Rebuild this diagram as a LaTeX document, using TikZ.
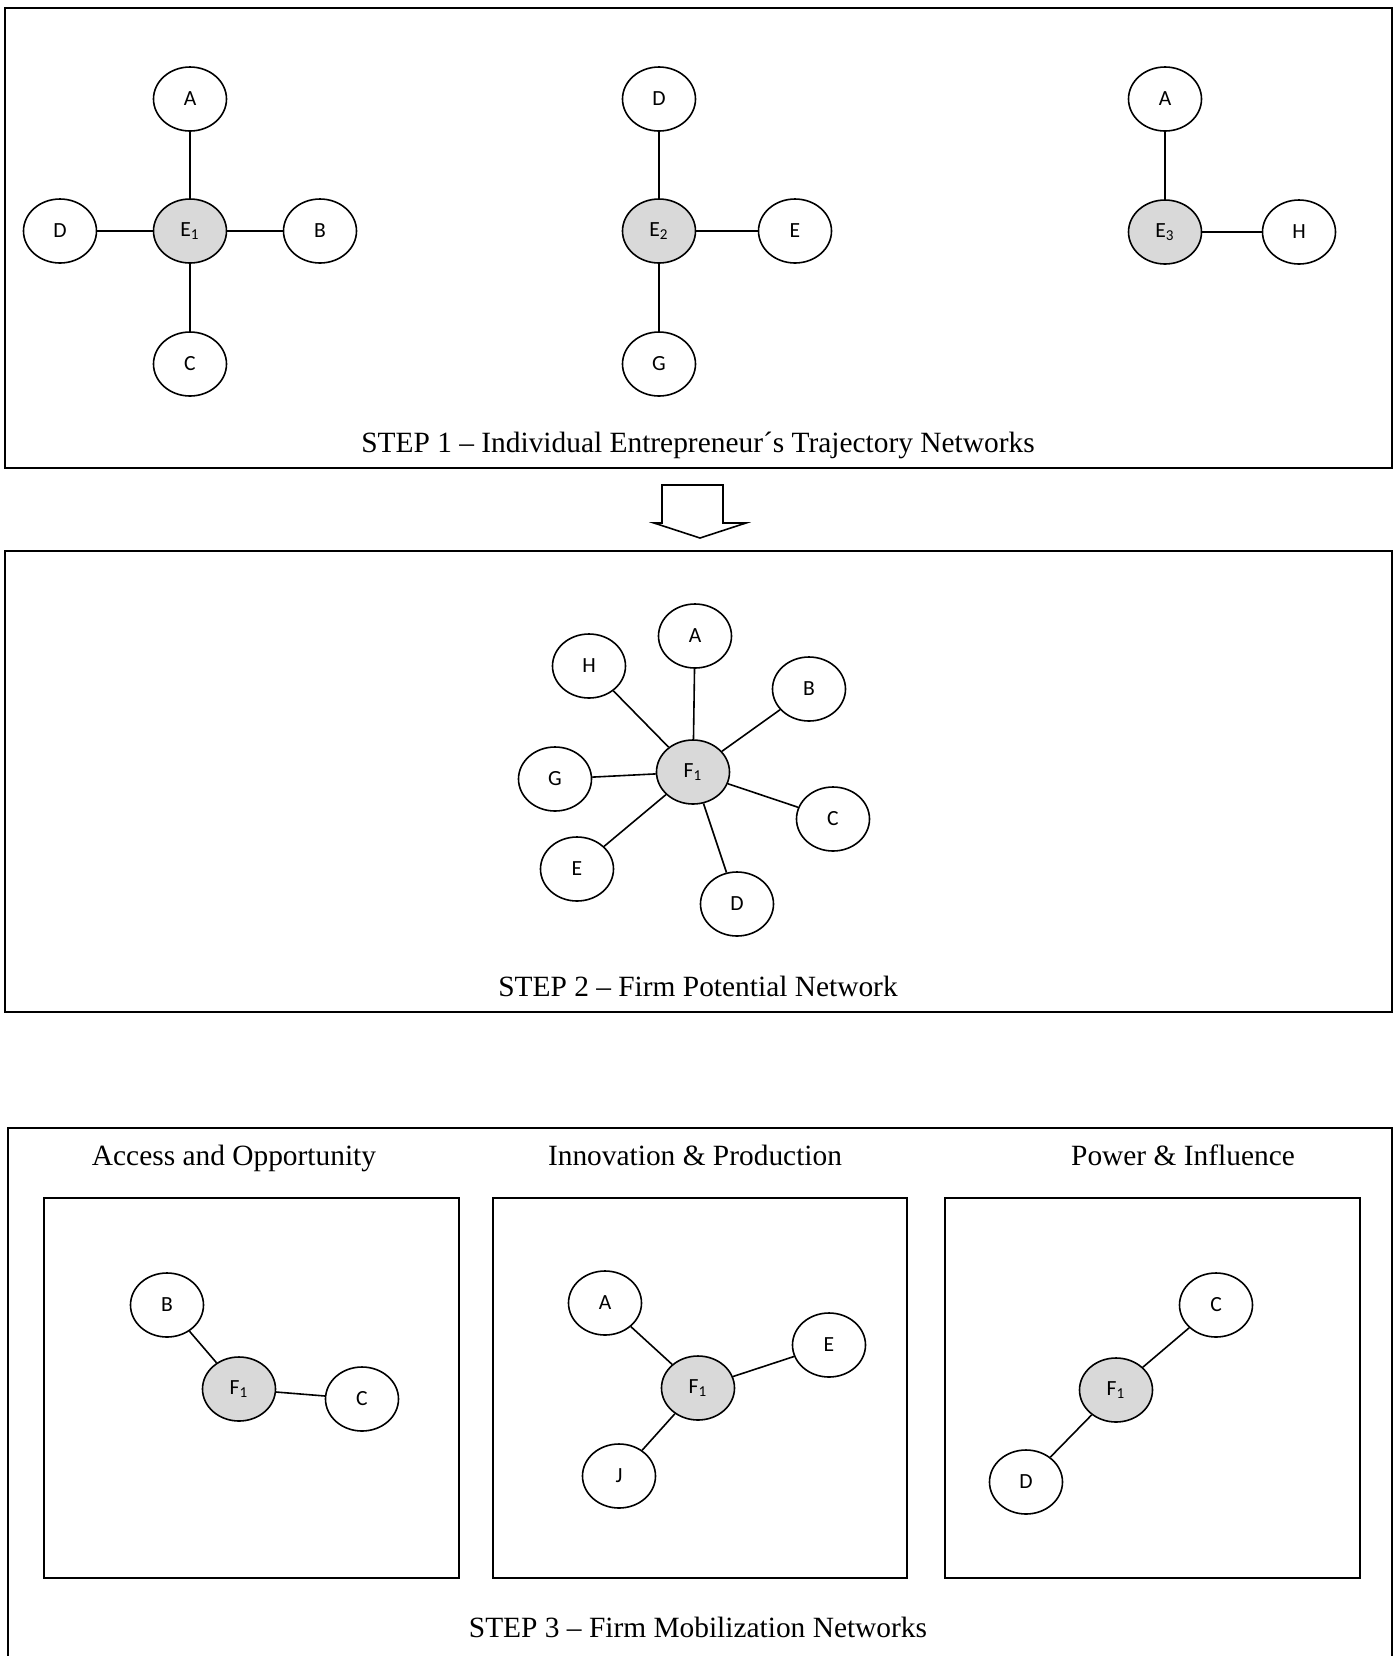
\documentclass[tikz,border=0pt]{standalone}
\usepackage{fontspec}
\setmainfont{Liberation Serif}
\newfontfamily\nodefont{Carlito}
\usetikzlibrary{shapes.geometric}
\definecolor{hubgray}{RGB}{217,217,217}
\newcommand{\netnode}[4]{\node[actor] (#1) at (#2,#3) {#4};}
\newcommand{\hubnode}[4]{\node[actor,fill=hubgray] (#1) at (#2,#3) {#4};}

\begin{document}
\begin{tikzpicture}[x=0.5pt,y=-0.5pt,
  actor/.style={ellipse,draw,line width=0.8pt,minimum width=36.5pt,minimum height=32pt,inner sep=0pt,font=\nodefont\fontsize{10.8}{12}\selectfont},
  tie/.style={line width=0.8pt},
  frame/.style={line width=0.9pt},
  title/.style={font=\fontsize{14.7}{17}\selectfont,text height=10.5pt,text depth=3pt}]
\useasboundingbox (0,0) rectangle (1400,1656);
% step 1
\draw[frame] (5,8) rectangle (1392,468);
\begin{scope}[shift={(190,231)}]
\hubnode{ea}{0}{0}{E\textsubscript{1}}
\netnode{eaA}{0}{-132}{A}
\netnode{eaD}{-130}{0}{D}
\netnode{eaB}{130}{0}{B}
\netnode{eaC}{0}{133}{C}
\draw[tie] (ea)--(eaA);
\draw[tie] (ea)--(eaD);
\draw[tie] (ea)--(eaB);
\draw[tie] (ea)--(eaC);
\end{scope}
\begin{scope}[shift={(659,231)}]
\hubnode{eb}{0}{0}{E\textsubscript{2}}
\netnode{ebD}{0}{-132}{D}
\netnode{ebE}{136}{0}{E}
\netnode{ebG}{0}{133}{G}
\draw[tie] (eb)--(ebD);
\draw[tie] (eb)--(ebE);
\draw[tie] (eb)--(ebG);
\end{scope}
\begin{scope}[shift={(1165,232)}]
\hubnode{ec}{0}{0}{E\textsubscript{3}}
\netnode{ecA}{0}{-133}{A}
\netnode{ecH}{134}{0}{H}
\draw[tie] (ec)--(ecA);
\draw[tie] (ec)--(ecH);
\end{scope}
\node[title] (stepa) at (698,445) {STEP 1 – Individual Entrepreneur´s Trajectory Networks};
% block arrow
\draw[line width=0.8pt] (662,485)--(723,485)--(723,523)--(746,523)--(700,538)--(654,523)--(662,523)--cycle;
% step 2
\draw[frame] (5,551) rectangle (1392,1012);
\begin{scope}[shift={(693,772)}]
\hubnode{fp}{0}{0}{F\textsubscript{1}}
\netnode{fpA}{2}{-136}{A}
\netnode{fpH}{-104}{-106}{H}
\netnode{fpB}{116}{-83}{B}
\netnode{fpG}{-138}{7}{G}
\netnode{fpC}{140}{47}{C}
\netnode{fpE}{-116}{97}{E}
\netnode{fpD}{44}{132}{D}
\foreach \n in {A,H,B,G,C,E,D}
  \draw[tie] (fp)--(fp\n);
\end{scope}
\node[title] (stepb) at (698,989) {STEP 2 – Firm Potential Network};
% step 3
\draw[frame] (8,1128) rectangle (1392,1660);
\node[title] (acc) at (234,1158) {Access and Opportunity};
\node[title] (inn) at (695,1158) {Innovation \& Production};
\node[title] (pow) at (1183,1158) {Power \& Influence};
\begin{scope}[shift={(44,1198)}]
\draw[frame] (0,0) rectangle (415,380);
\hubnode{fa}{195}{191}{F\textsubscript{1}}
\netnode{faB}{123}{107}{B}
\netnode{faC}{318}{201}{C}
\draw[tie] (fa)--(faB);
\draw[tie] (fa)--(faC);
\end{scope}
\begin{scope}[shift={(493,1198)}]
\draw[frame] (0,0) rectangle (414,380);
\hubnode{fb}{205}{190}{F\textsubscript{1}}
\netnode{fbA}{112}{105}{A}
\netnode{fbE}{336}{147}{E}
\netnode{fbJ}{126}{278}{J}
\draw[tie] (fb)--(fbA);
\draw[tie] (fb)--(fbE);
\draw[tie] (fb)--(fbJ);
\end{scope}
\begin{scope}[shift={(945,1198)}]
\draw[frame] (0,0) rectangle (415,380);
\hubnode{fc}{171}{192}{F\textsubscript{1}}
\netnode{fcC}{271}{107}{C}
\netnode{fcD}{81}{284}{D}
\draw[tie] (fc)--(fcC);
\draw[tie] (fc)--(fcD);
\end{scope}
\node[title] (stepc) at (698,1630) {STEP 3 – Firm Mobilization Networks};
\end{tikzpicture}
\end{document}
